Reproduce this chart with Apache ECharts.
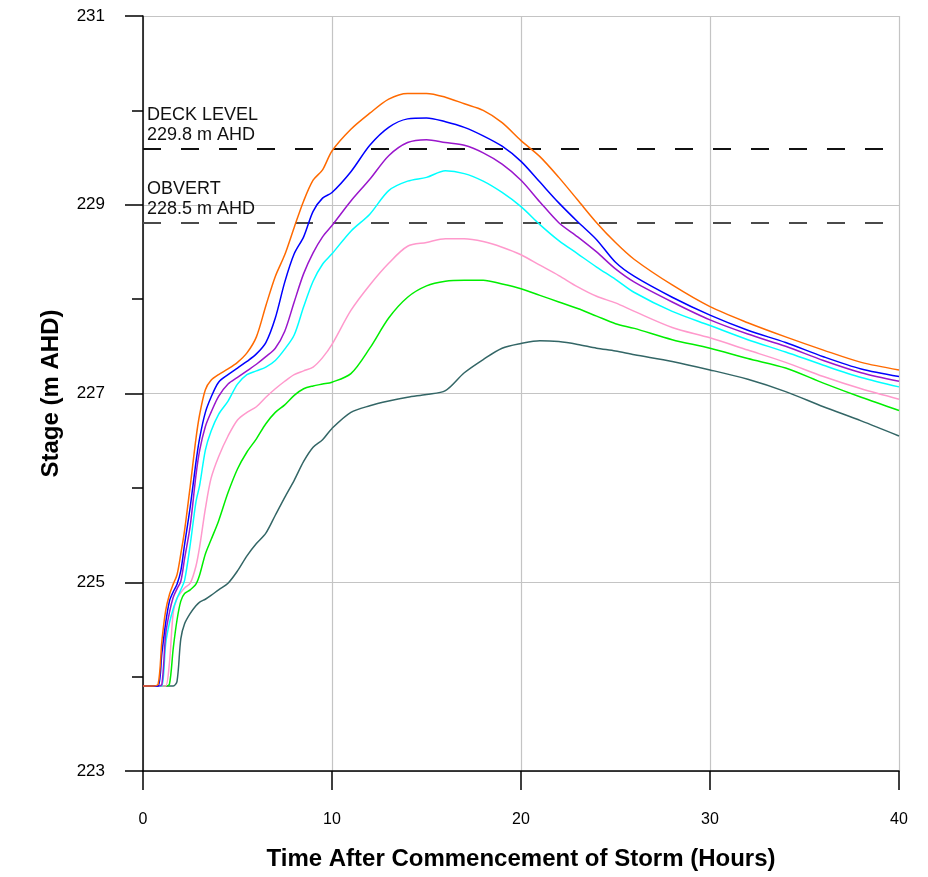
<!DOCTYPE html>
<html>
<head>
<meta charset="utf-8">
<script src="https://cdn.jsdelivr.net/npm/echarts@6/dist/echarts.min.js"></script>
<style>
  html, body { margin: 0; padding: 0; background: #fff; }
  #chart { width: 928px; height: 877px; }
</style>
</head>
<body>
<div id="chart"></div>
<script>
// time after commencement of storm (hours)
var hours = [0, 0.5, 0.8, 1, 1.2, 1.4, 1.6, 1.8, 2, 2.2, 2.5, 2.8, 3, 3.3, 3.6, 4, 4.5, 5, 5.5, 6, 6.5, 7, 7.5, 8, 8.5, 9, 9.5, 10, 11, 12, 13, 14, 15, 16, 17, 18, 19, 20, 21, 22, 23, 24, 25, 26, 28, 30, 32, 34, 36, 38, 40];

// stage (m AHD), one array per run
var orangeStage = [223.9, 223.9, 223.92, 224.38, 224.7, 224.87, 224.98, 225.08, 225.3, 225.55, 226.02, 226.52, 226.78, 227.04, 227.14, 227.2, 227.26, 227.33, 227.43, 227.6, 227.93, 228.24, 228.47, 228.76, 229.04, 229.26, 229.37, 229.57, 229.8, 229.97, 230.12, 230.18, 230.18, 230.14, 230.07, 230.0, 229.87, 229.68, 229.51, 229.29, 229.05, 228.81, 228.6, 228.42, 228.15, 227.92, 227.75, 227.6, 227.46, 227.33, 227.25];
var blueStage = [223.9, 223.9, 223.9, 224.25, 224.57, 224.8, 224.9, 224.98, 225.12, 225.4, 225.8, 226.27, 226.53, 226.8, 226.96, 227.12, 227.2, 227.27, 227.34, 227.42, 227.54, 227.8, 228.18, 228.48, 228.66, 228.93, 229.07, 229.13, 229.35, 229.63, 229.82, 229.91, 229.92, 229.88, 229.82, 229.73, 229.62, 229.46, 229.24, 229.02, 228.82, 228.63, 228.39, 228.24, 228.02, 227.83, 227.67, 227.54, 227.39, 227.26, 227.18];
var purpleStage = [223.9, 223.9, 223.9, 223.92, 224.45, 224.68, 224.84, 224.93, 225.01, 225.25, 225.6, 226.13, 226.4, 226.65, 226.8, 226.97, 227.1, 227.17, 227.24, 227.31, 227.39, 227.48, 227.66, 227.97, 228.27, 228.49, 228.66, 228.78, 229.04, 229.27, 229.52, 229.66, 229.69, 229.66, 229.63, 229.55, 229.43, 229.26, 229.03, 228.81, 228.66, 228.5, 228.32, 228.18, 227.97, 227.78, 227.63, 227.5, 227.35, 227.22, 227.13];
var cyanStage = [223.9, 223.9, 223.9, 223.9, 224.35, 224.57, 224.72, 224.83, 224.92, 225.02, 225.4, 225.85, 226.03, 226.4, 226.6, 226.78, 226.92, 227.1, 227.2, 227.24, 227.28, 227.35, 227.47, 227.62, 227.92, 228.19, 228.37, 228.48, 228.72, 228.9, 229.15, 229.25, 229.29, 229.36, 229.33, 229.25, 229.13, 228.98, 228.79, 228.62, 228.48, 228.34, 228.21, 228.07, 227.87, 227.72, 227.57, 227.44, 227.3, 227.17, 227.07];
var pinkStage = [223.9, 223.9, 223.9, 223.9, 223.9, 224.15, 224.68, 224.83, 224.89, 224.94, 224.99, 225.17, 225.38, 225.78, 226.1, 226.33, 226.55, 226.72, 226.8, 226.86, 226.96, 227.05, 227.13, 227.2, 227.24, 227.28, 227.38, 227.52, 227.88, 228.15, 228.38, 228.56, 228.6, 228.64, 228.64, 228.61, 228.55, 228.47, 228.36, 228.25, 228.13, 228.03, 227.96, 227.87, 227.7, 227.59, 227.46, 227.33, 227.18, 227.05, 226.94];
var greenStage = [223.9, 223.9, 223.9, 223.9, 223.9, 223.92, 224.3, 224.6, 224.8, 224.88, 224.92, 224.98, 225.08, 225.3, 225.45, 225.65, 225.95, 226.2, 226.38, 226.52, 226.68, 226.8, 226.88, 226.98, 227.05, 227.08, 227.1, 227.12, 227.21, 227.48, 227.8, 228.02, 228.14, 228.19, 228.2, 228.2, 228.16, 228.11, 228.04, 227.97, 227.9, 227.82, 227.74, 227.69, 227.57, 227.48, 227.37, 227.27, 227.11, 226.96, 226.82];
var slateStage = [223.9, 223.9, 223.9, 223.9, 223.9, 223.9, 223.9, 223.95, 224.4, 224.56, 224.67, 224.75, 224.79, 224.82, 224.86, 224.92, 224.99, 225.12, 225.28, 225.41, 225.52, 225.71, 225.9, 226.08, 226.28, 226.43, 226.51, 226.63, 226.8, 226.87, 226.92, 226.96, 226.99, 227.03, 227.22, 227.36, 227.48, 227.53, 227.56, 227.55, 227.52, 227.48, 227.45, 227.41, 227.34, 227.25, 227.15, 227.02, 226.86, 226.71, 226.55];

// reference levels drawn as dashed lines
var levelNames = ['DECK LEVEL\n229.8 m AHD', 'OBVERT\n228.5 m AHD'];
var levelValues = [229.59, 228.81];
var levelColors = ['#111111', '#4a4a4a'];

var runs = [
    { data: orangeStage, color: '#ff6a00' },
    { data: blueStage, color: '#0000ff' },
    { data: purpleStage, color: '#9a16cc' },
    { data: cyanStage, color: '#00ffff' },
    { data: pinkStage, color: '#ff99cc' },
    { data: greenStage, color: '#00ee00' },
    { data: slateStage, color: '#336666' }
];

var font = "'Liberation Sans', Arial, sans-serif";
var myChart = echarts.init(document.getElementById('chart'));

var series = runs.map(function (run, i) {
    return {
        type: 'line',
        data: hours.map(function (h, k) { return [h, run.data[k]]; }),
        showSymbol: false,
        smooth: 0.3,
        lineStyle: { color: run.color, width: 1.5 },
        z: 10 - i,
        animation: false
    };
});

series[0].markLine = {
    silent: true,
    symbol: 'none',
    animation: false,
    data: levelValues.map(function (v, i) {
        return {
            name: levelNames[i],
            yAxis: v,
            lineStyle: { color: levelColors[i], width: 2, type: [18, 20] },
            label: {
                show: true,
                position: 'insideStartTop',
                formatter: '{b}',
                color: '#111',
                fontFamily: font,
                fontSize: 18,
                lineHeight: 20,
                distance: [4, 4]
            }
        };
    })
};

var option = {
    backgroundColor: '#fff',
    animation: false,
    grid: { left: 143, right: 29, top: 16, bottom: 106 },
    xAxis: {
        type: 'value',
        min: 0,
        max: 40,
        interval: 10,
        name: 'Time After Commencement of Storm (Hours)',
        nameLocation: 'middle',
        nameGap: 76,
        nameTextStyle: { fontFamily: font, fontSize: 24, fontWeight: 'bold', color: '#000' },
        axisLine: { lineStyle: { color: '#000', width: 1.5 } },
        axisTick: { show: true, length: 19, lineStyle: { color: '#000', width: 1.5 } },
        axisLabel: { margin: 41, fontFamily: font, fontSize: 16, color: '#000' },
        splitLine: { show: true, lineStyle: { color: '#c4c4c4', width: 1.2 } }
    },
    yAxis: {
        type: 'value',
        min: 223,
        max: 231,
        interval: 2,
        name: 'Stage (m AHD)',
        nameLocation: 'middle',
        nameGap: 80,
        nameRotate: 90,
        nameTextStyle: { fontFamily: font, fontSize: 24, fontWeight: 'bold', color: '#000' },
        axisLine: { show: true, lineStyle: { color: '#000', width: 1.5 } },
        axisTick: { show: true, length: 18, lineStyle: { color: '#000', width: 1.5 } },
        minorTick: { show: true, splitNumber: 2, length: 11, lineStyle: { color: '#000', width: 1.5 } },
        minorSplitLine: { show: false },
        axisLabel: { margin: 38, fontFamily: font, fontSize: 17, color: '#000' },
        splitLine: { show: true, lineStyle: { color: '#c4c4c4', width: 1.2 } }
    },
    series: series
};

myChart.setOption(option);
</script>
</body>
</html>
